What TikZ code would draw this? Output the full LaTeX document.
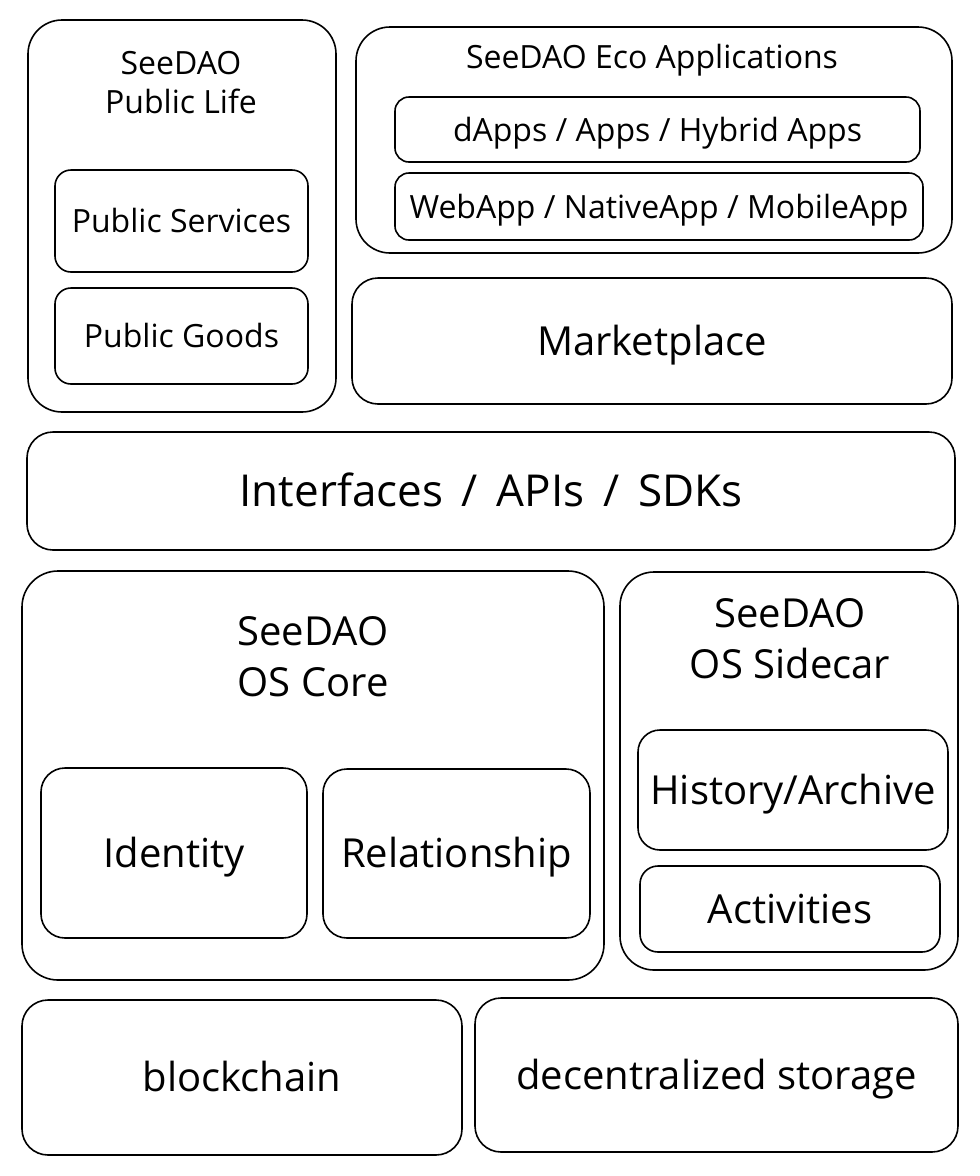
\documentclass[tikz,border=0pt]{standalone}
\usepackage{fontspec}
\setmainfont{Open Sans}
\begin{document}
\begin{tikzpicture}[x=1pt,y=-1pt,
  box/.style={draw=black, line width=1.6pt, rounded corners=#1, inner sep=0pt, fill=white},
  box/.default=16pt,
  big/.style={font=\fontsize{40}{51}\selectfont, align=center, inner sep=0pt},
  small/.style={font=\fontsize{32}{39}\selectfont, align=center, inner sep=0pt},
  biglbl/.style={big, text height=28.5pt, text depth=0pt},
  smalllbl/.style={small, text height=23pt, text depth=0pt}]
\useasboundingbox[fill=white] (0,0) rectangle (980,1176);

% SeeDAO Public Life
\node[box=34pt, minimum width=308pt, minimum height=392pt] (publife) at (182,216) {};
\node[small] (publifet) at (181,83) {SeeDAO\\Public Life};
\node[box, minimum width=253pt, minimum height=102pt, smalllbl] (pubserv) at (181.5,221) {Public Services};
\node[box, minimum width=253pt, minimum height=96pt, smalllbl] (pubgoods) at (181.5,336) {Public Goods};

% Eco applications
\node[box=34pt, minimum width=596pt, minimum height=226pt] (eco) at (654,140) {};
\node[smalllbl] (ecot) at (652,57) {SeeDAO Eco Applications};
\node[box=14pt, minimum width=525pt, minimum height=65pt, smalllbl] (dapps) at (657.5,129.5) {dApps / Apps / Hybrid Apps};
\node[box=14pt, minimum width=528pt, minimum height=67pt, smalllbl] (webapp) at (659,206.5) {WebApp / NativeApp / MobileApp};

% Marketplace
\node[box=26pt, minimum width=600pt, minimum height=126pt, biglbl] (market) at (652,341) {Marketplace};

% Interfaces
\node[box=26pt, minimum width=928pt, minimum height=118pt, big, font=\fontsize{44}{51}\selectfont, text height=31pt, text depth=0pt] (iface) at (491,491) {Interfaces \,/\, APIs \,/\, SDKs};

% OS Core
\node[box=36pt, minimum width=582pt, minimum height=409pt] (core) at (313,775.5) {};
\node[big] (coret) at (313,657) {SeeDAO\\OS Core};
\node[box=24pt, minimum width=266pt, minimum height=170pt, biglbl] (identity) at (174,853) {Identity};
\node[box=24pt, minimum width=267pt, minimum height=169pt, biglbl] (relation) at (456.5,853.5) {Relationship};

% OS Sidecar
\node[box=34pt, minimum width=338pt, minimum height=398pt] (sidecar) at (789,771) {};
\node[big] (sidecart) at (790,639) {SeeDAO\\OS Sidecar};
\node[box=22pt, minimum width=310pt, minimum height=120pt, biglbl] (history) at (793,790) {History/Archive};
\node[box=18pt, minimum width=300pt, minimum height=86pt, biglbl] (activities) at (790,909) {Activities};

% Bottom
\node[box=26pt, minimum width=440pt, minimum height=155pt, biglbl] (chain) at (242,1077.5) {blockchain};
\node[box=26pt, minimum width=483pt, minimum height=154pt, biglbl] (storage) at (716.5,1075) {decentralized storage};
\end{tikzpicture}
\end{document}
